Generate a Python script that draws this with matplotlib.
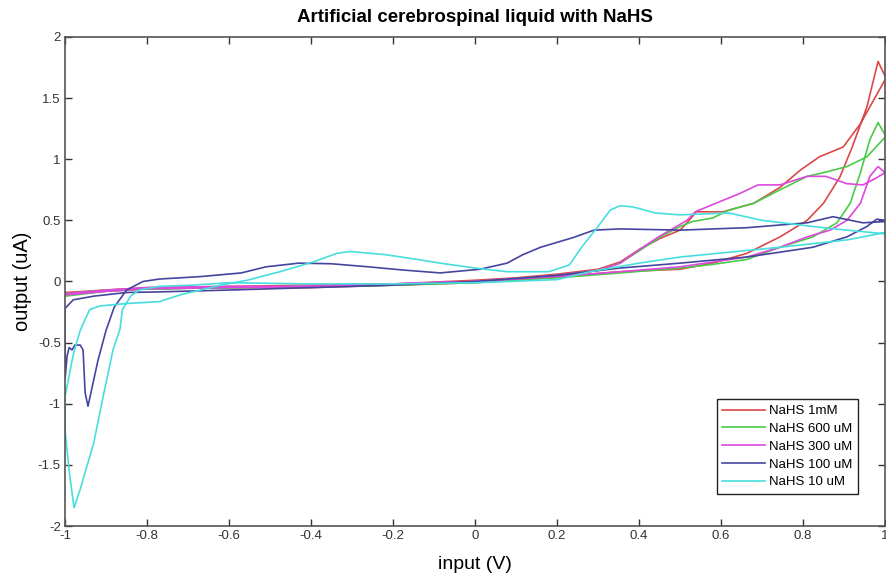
import matplotlib
matplotlib.use("Agg")
import matplotlib.pyplot as plt

# cyclic voltammograms, each one closed loop: reverse branch (1 -> -1) then forward branch (-1 -> 1)
red_x = [1.0, 0.94, 0.898, 0.84, 0.793, 0.744, 0.68, 0.605, 0.54, 0.517, 0.50, 0.45, 0.40, 0.354, 0.30,
         0.20, 0.10, 0.0, -0.2, -0.4, -0.6, -0.8, -0.9, -1.0,
         -1.0, -0.9, -0.8, -0.6, -0.4, -0.2, 0.0, 0.2, 0.354, 0.50, 0.58, 0.663, 0.744, 0.81, 0.85, 0.89,
         0.92, 0.956, 0.983, 1.0]
red_y = [1.65, 1.29, 1.10, 1.02, 0.91, 0.77, 0.64, 0.57, 0.57, 0.48, 0.42, 0.35, 0.26, 0.16, 0.10,
         0.06, 0.03, 0.01, -0.02, -0.03, -0.04, -0.05, -0.07, -0.09,
         -0.11, -0.08, -0.06, -0.05, -0.05, -0.03, -0.01, 0.04, 0.08, 0.10, 0.15, 0.23, 0.365, 0.50, 0.64, 0.855,
         1.10, 1.43, 1.80, 1.68]

green_x = [1.0, 0.956, 0.907, 0.85, 0.81, 0.744, 0.68, 0.62, 0.58, 0.53, 0.50, 0.45, 0.40, 0.354, 0.30,
           0.2, 0.0, -0.2, -0.4, -0.6, -0.8, -0.9, -1.0,
           -1.0, -0.9, -0.8, -0.6, -0.4, -0.2, 0.0, 0.2, 0.354, 0.50, 0.58, 0.663, 0.744, 0.824, 0.883, 0.915,
           0.94, 0.963, 0.983, 1.0]
green_y = [1.18, 1.02, 0.94, 0.89, 0.86, 0.75, 0.64, 0.585, 0.52, 0.49, 0.45, 0.36, 0.25, 0.15, 0.09,
           0.05, 0.0, -0.03, -0.04, -0.05, -0.06, -0.07, -0.10,
           -0.12, -0.08, -0.06, -0.05, -0.04, -0.03, -0.01, 0.03, 0.07, 0.11, 0.14, 0.18, 0.28, 0.365, 0.48, 0.64,
           0.89, 1.16, 1.30, 1.20]

magenta_x = [1.0, 0.975, 0.946, 0.907, 0.856, 0.81, 0.744, 0.69, 0.646, 0.58, 0.537, 0.517, 0.45, 0.40, 0.354,
             0.30, 0.2, 0.0, -0.2, -0.4, -0.6, -0.8, -0.9, -1.0,
             -1.0, -0.9, -0.8, -0.6, -0.4, -0.2, 0.0, 0.2, 0.354, 0.50, 0.663, 0.744, 0.81, 0.866, 0.907,
             0.94, 0.963, 0.983, 1.0]
magenta_y = [0.89, 0.84, 0.79, 0.80, 0.86, 0.86, 0.79, 0.79, 0.72, 0.63, 0.57, 0.50, 0.37, 0.26, 0.15,
             0.09, 0.05, 0.0, -0.02, -0.04, -0.04, -0.05, -0.07, -0.10,
             -0.11, -0.08, -0.06, -0.05, -0.04, -0.02, 0.0, 0.04, 0.08, 0.12, 0.20, 0.28, 0.365, 0.42, 0.50,
             0.64, 0.86, 0.94, 0.89]

blue_x = [1.0, 0.946, 0.873, 0.81, 0.663, 0.5, 0.354, 0.29, 0.24, 0.16, 0.117, 0.078, 0.012, -0.085, -0.18,
          -0.26, -0.35, -0.43, -0.51, -0.57, -0.67, -0.77, -0.81, -0.85, -0.88, -0.90, -0.92, -0.944, -0.951,
          -0.956, -0.963, -0.976, -0.983, -0.99, -0.995, -1.0,
          -1.0, -0.98, -0.93, -0.85, -0.77, -0.6, -0.4, -0.2, 0.0, 0.2, 0.354, 0.5, 0.663, 0.744, 0.824,
          0.907, 0.956, 0.98, 1.0]
blue_y = [0.49, 0.48, 0.53, 0.48, 0.44, 0.42, 0.43, 0.42, 0.36, 0.28, 0.22, 0.15, 0.10, 0.07, 0.095,
          0.12, 0.145, 0.15, 0.12, 0.07, 0.04, 0.02, 0.0, -0.07, -0.21, -0.40, -0.65, -1.02, -0.91,
          -0.56, -0.52, -0.52, -0.56, -0.54, -0.61, -0.80,
          -0.22, -0.15, -0.12, -0.09, -0.085, -0.07, -0.05, -0.03, 0.0, 0.05, 0.11, 0.15, 0.20, 0.24, 0.28,
          0.365, 0.45, 0.51, 0.50]

cyan_x = [1.0, 0.907, 0.824, 0.70, 0.62, 0.5, 0.44, 0.385, 0.354, 0.33, 0.30, 0.26, 0.23, 0.18, 0.078,
          0.0, -0.085, -0.14, -0.22, -0.305, -0.337, -0.395, -0.476, -0.556, -0.62, -0.72, -0.77, -0.85,
          -0.915, -0.94, -0.963, -0.98, -1.0,
          -1.0, -0.99, -0.978, -0.963, -0.93, -0.907, -0.883, -0.866, -0.86, -0.84, -0.82, -0.77, -0.69,
          -0.6, -0.4, -0.2, 0.0, 0.2, 0.28, 0.4, 0.5, 0.744, 0.907, 1.0]
cyan_y = [0.39, 0.42, 0.45, 0.50, 0.56, 0.545, 0.56, 0.61, 0.62, 0.585, 0.45, 0.28, 0.135, 0.08, 0.08,
          0.11, 0.15, 0.18, 0.22, 0.245, 0.23, 0.16, 0.08, 0.01, -0.03, -0.11, -0.165, -0.18,
          -0.20, -0.23, -0.40, -0.60, -0.94,
          -1.21, -1.55, -1.85, -1.70, -1.32, -0.94, -0.56, -0.39, -0.23, -0.12, -0.07, -0.04, -0.03,
          -0.01, -0.02, -0.02, -0.01, 0.015, 0.08, 0.15, 0.20, 0.28, 0.34, 0.40]

labels = ["NaHS 1mM", "NaHS 600 uM", "NaHS 300 uM", "NaHS 100 uM", "NaHS 10 uM"]
colors = ["#dd4848", "#48cc48", "#dd48dd", "#45459f", "#48dede"]
xticks = [-1, -0.8, -0.6, -0.4, -0.2, 0, 0.2, 0.4, 0.6, 0.8, 1]
yticks = [-2, -1.5, -1, -0.5, 0, 0.5, 1, 1.5, 2]

plt.rcParams["font.family"] = ["Liberation Sans", "DejaVu Sans"]

fig = plt.figure(figsize=(8.86, 5.74), dpi=100)
ax = fig.add_axes([0.0734, 0.0836, 0.9255, 0.852])

series = [(red_x, red_y), (green_x, green_y), (magenta_x, magenta_y), (blue_x, blue_y), (cyan_x, cyan_y)]
for (xs, ys), c, lab in zip(series, colors, labels):
    ax.plot(xs, ys, color=c, lw=1.2, label=lab)

ax.set_xlim(-1, 1)
ax.set_ylim(-2, 2)
ax.set_xticks(xticks)
ax.set_xticklabels(["-1", "-0.8", "-0.6", "-0.4", "-0.2", "0", "0.2", "0.4", "0.6", "0.8", "1"])
ax.set_yticks(yticks)
ax.set_yticklabels(["-2", "-1.5", "-1", "-0.5", "0", "0.5", "1", "1.5", "2"])
ax.tick_params(direction="in", length=5, width=1, top=True, right=True,
               labelsize=9.5, colors="#333333", pad=3)
for s in ax.spines.values():
    s.set_color("#555555")
    s.set_linewidth(1.2)

ax.set_title("Artificial cerebrospinal liquid with NaHS", fontsize=13.5, fontweight="bold", pad=11)
ax.set_xlabel("input (V)", fontsize=14, labelpad=10)
ax.set_ylabel("output (uA)", fontsize=14.5, labelpad=4)

leg = ax.legend(loc="lower right", bbox_to_anchor=(0.967, 0.065), borderaxespad=0,
                fontsize=9.5, handlelength=3.2, handletextpad=0.3, labelspacing=0.42,
                borderpad=0.45, fancybox=False, framealpha=1, edgecolor="#222222")
leg.get_frame().set_linewidth(1.0)

fig.savefig("out.png", dpi=100)
